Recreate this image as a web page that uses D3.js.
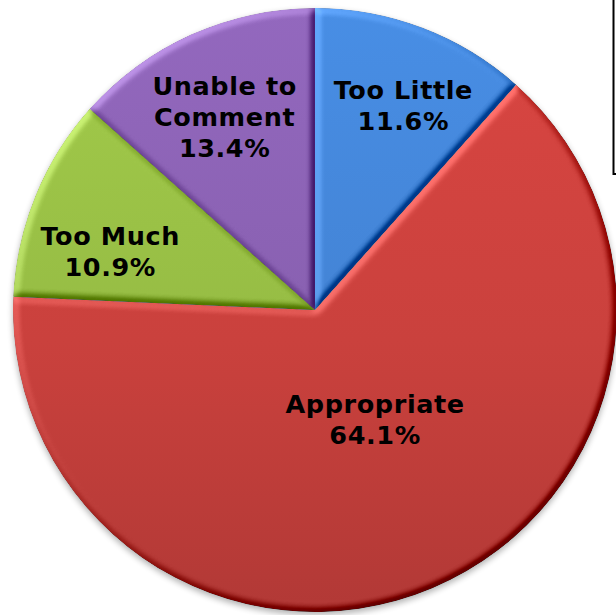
<!DOCTYPE html>
<html>
<head>
<meta charset="utf-8">
<script src="https://cdn.jsdelivr.net/npm/d3@7"></script>
<style>
  html, body { margin: 0; padding: 0; background: #fff; }
  svg { display: block; }
</style>
</head>
<body>
<svg id="chart" width="616" height="615"></svg>
<script>
// Survey answers, in clockwise order from 12 o'clock
const categories = ["Too Little", "Appropriate", "Too Much", "Unable to Comment"];
const shares = [11.6, 64.1, 10.9, 13.4];
const labelLines = [["Too Little"], ["Appropriate"], ["Too Much"], ["Unable to", "Comment"]];
const sliceColors = ["#4383D4", "#CA413D", "#96BC44", "#8860B0"];

const W = 616, H = 615;
const cx = 315, cy = 310, R = 302;

const svg = d3.select("#chart");
const defs = svg.append("defs");

// Bevelled look: lighting taken from a blurred copy of each slice's alpha
const bevel = defs.append("filter")
  .attr("id", "bevel")
  .attr("x", "-5%").attr("y", "-5%").attr("width", "110%").attr("height", "110%")
  .attr("color-interpolation-filters", "sRGB");
bevel.append("feGaussianBlur").attr("in", "SourceAlpha").attr("stdDeviation", 3.5).attr("result", "b");
const lit = bevel.append("feDiffuseLighting")
  .attr("in", "b").attr("surfaceScale", 5).attr("diffuseConstant", 1)
  .attr("lighting-color", "#fff").attr("result", "light");
lit.append("feDistantLight").attr("azimuth", 225).attr("elevation", 40);
bevel.append("feComposite")
  .attr("in", "SourceGraphic").attr("in2", "light").attr("operator", "arithmetic")
  .attr("k1", 0).attr("k2", 1).attr("k3", 0.48).attr("k4", -0.48 * Math.sin(40 * Math.PI / 180))
  .attr("result", "shaded");
bevel.append("feComposite").attr("in", "shaded").attr("in2", "SourceAlpha").attr("operator", "in");

// Soft shadow under the pie
const shadow = defs.append("filter")
  .attr("id", "pieShadow")
  .attr("x", "-10%").attr("y", "-10%").attr("width", "120%").attr("height", "120%");
shadow.append("feGaussianBlur").attr("stdDeviation", 3);

// Vertical shading per colour: lighter at the top of the pie, darker at the bottom
sliceColors.forEach((c, i) => {
  const g = defs.append("linearGradient")
    .attr("id", "grad" + i)
    .attr("gradientUnits", "userSpaceOnUse")
    .attr("x1", 0).attr("y1", -R).attr("x2", 0).attr("y2", R);
  g.append("stop").attr("offset", "0%").attr("stop-color", d3.color(c).brighter(0.22));
  g.append("stop").attr("offset", "55%").attr("stop-color", c);
  g.append("stop").attr("offset", "100%").attr("stop-color", d3.color(c).darker(0.35));
});

const pie = d3.pie().sort(null).value(d => d.value).startAngle(0).endAngle(2 * Math.PI);
const data = categories.map((name, i) => ({ name, value: shares[i], lines: labelLines[i], i }));
const arcs = pie(data);

const arc = d3.arc().innerRadius(0).outerRadius(R);

const g = svg.append("g").attr("transform", `translate(${cx},${cy})`);

g.append("circle")
  .attr("cx", 0).attr("cy", 3).attr("r", R)
  .attr("fill", "#000").attr("opacity", 0.3)
  .attr("filter", "url(#pieShadow)");

g.selectAll("path.slice")
  .data(arcs)
  .join("path")
  .attr("class", "slice")
  .attr("d", arc)
  .attr("fill", d => `url(#grad${d.data.i})`)
  .attr("filter", "url(#bevel)");

// Data labels: placed along each slice's bisector, then eased inside the slice
const fontSize = 25.5, lineH = 31, capH = 18.5;
const labelNudge = { "Too Little": [13, -7], "Appropriate": [12, -5], "Too Much": [-9, 21], "Unable to Comment": [-4, 0] };
const fmt = d3.format(".1f");

arcs.forEach(d => {
  const span = d.endAngle - d.startAngle;
  const lr = span > Math.PI ? R * 0.41 : R * 0.70;
  const [px, py] = d3.arc().innerRadius(lr).outerRadius(lr).centroid(d);
  const nudge = labelNudge[d.data.name] || [0, 0];
  const lines = d.data.lines.concat([fmt(d.data.value) + "%"]);
  const blockH = (lines.length - 1) * lineH + capH;
  const x = px + nudge[0];
  const y0 = py + nudge[1] - blockH / 2 + capH;
  const t = g.append("text")
    .attr("text-anchor", "middle")
    .attr("font-family", "'DejaVu Sans', Verdana, sans-serif")
    .attr("font-weight", "bold")
    .attr("font-size", fontSize)
    .attr("letter-spacing", 0.6)
    .attr("fill", "#000");
  lines.forEach((ln, k) => {
    t.append("tspan").attr("x", x).attr("y", y0 + k * lineH).text(ln);
  });
});

// Legend frame on the right edge
svg.append("rect")
  .attr("x", 613.5).attr("y", -2).attr("width", 40).attr("height", 176)
  .attr("fill", "#fff").attr("stroke", "#000").attr("stroke-width", 2);
</script>
</body>
</html>
